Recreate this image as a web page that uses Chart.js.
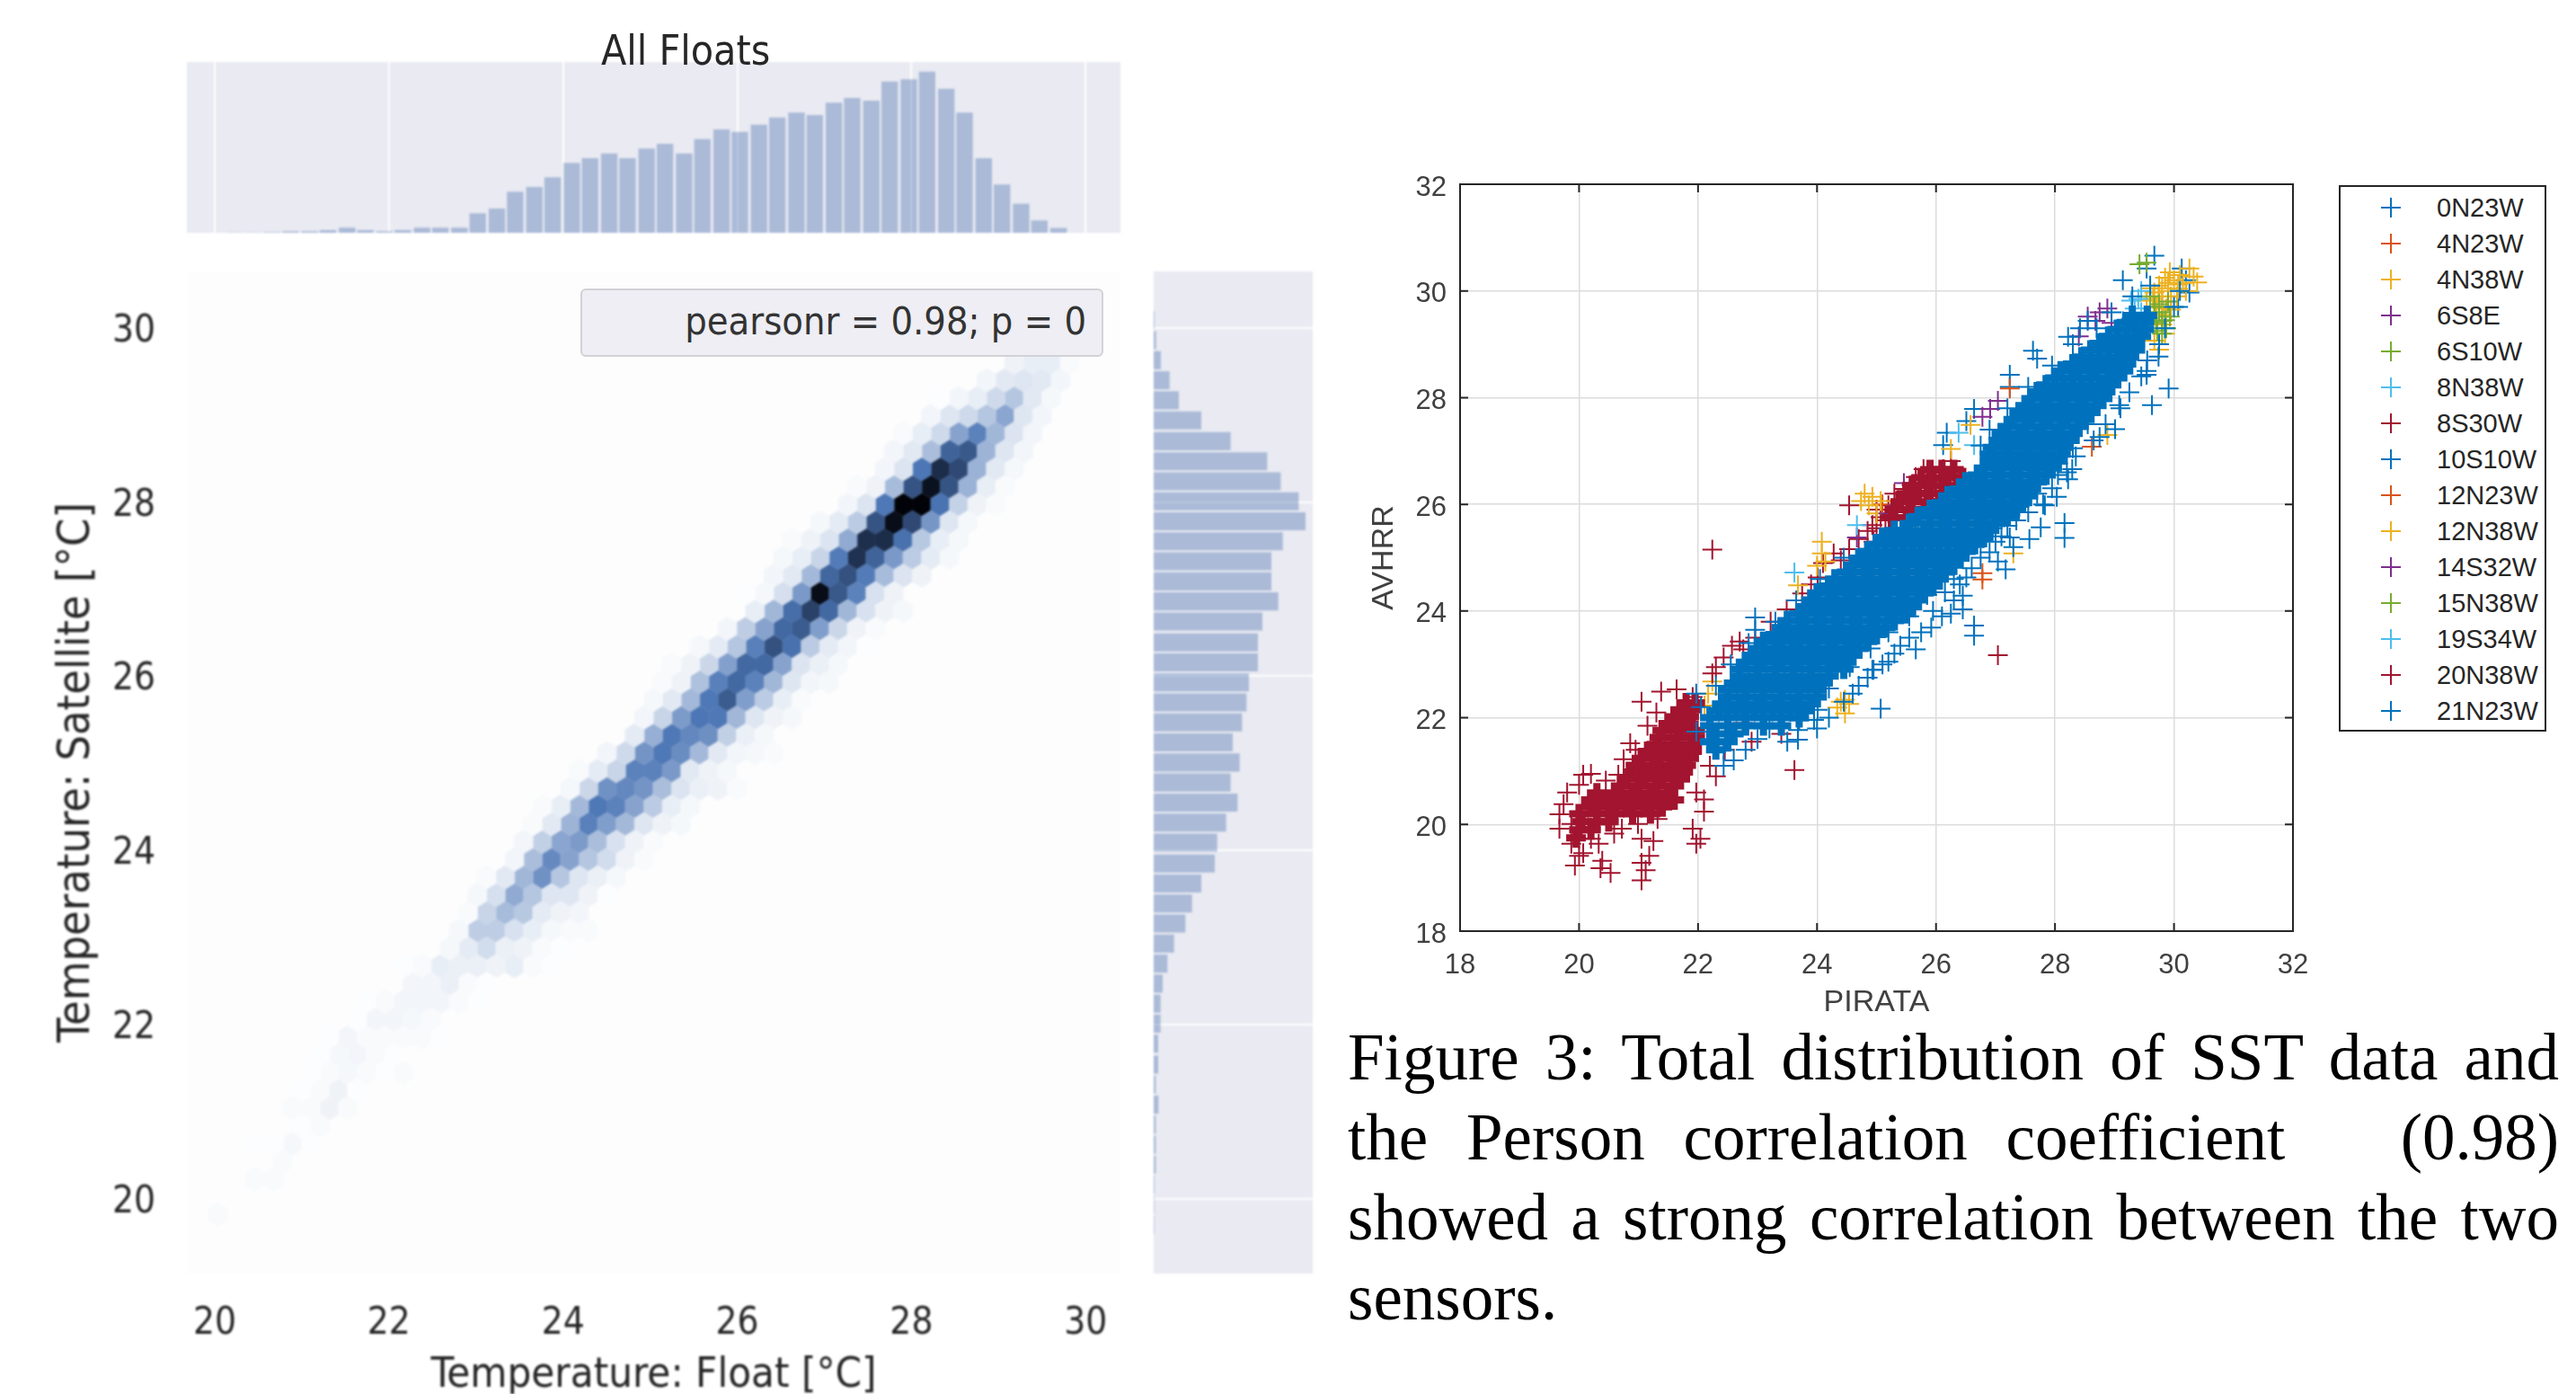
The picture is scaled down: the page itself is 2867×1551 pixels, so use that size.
<!DOCTYPE html>
<html>
<head>
<meta charset="utf-8">
<title>All Floats</title>
<script src="https://cdn.jsdelivr.net/npm/chart.js@4"></script>
<style>
    html, body { margin: 0; background: #fff; }
    body { position: relative; width: 2867px; height: 1551px; overflow: hidden; }
    canvas { position: absolute; }
    canvas.soft { filter: blur(0.8px); }
    .float-text { position: absolute; z-index: 2; color: #262626; font-family: "DejaVu Sans Condensed", "DejaVu Sans", sans-serif; white-space: nowrap; }
    #stats { left: 646px; top: 321px; width: 582px; height: 76px; box-sizing: border-box; padding-right: 17px; line-height: 68px; text-align: right;
             font-size: 43px; color: #333; background: #eeeef4; border: 2px solid #d2d2d6; border-radius: 6px; }
    #legend { position: absolute; left: 2603px; top: 206px; width: 231px; height: 608px; box-sizing: border-box; border: 2px solid #262626; background: #fff; }
    .legend-row { position: absolute; left: 107px; font: 29px/40px "Liberation Sans", sans-serif; color: #262626; }
    .legend-mark { position: absolute; width: 22px; height: 22px; left: 45px; }
    .legend-mark i { position: absolute; background: currentColor; }
    #caption { position: absolute; left: 1500px; top: 1132px; width: 1348px; font: 73px/89px "Liberation Serif", serif; color: #000; }
    #caption div { text-align: justify; text-align-last: justify; white-space: nowrap; }
    #caption div:last-child { text-align-last: left; }
</style>
</head>
<body>
<div class="float-text" style="left:669px;top:29px;font-size:46px;">All Floats</div>
<div id="legend"></div>
<div id="caption">
    <div>Figure 3: Total distribution of SST data and</div>
    <div style="white-space:normal">the Person correlation coefficient &nbsp; (0.98)</div>
    <div>showed a strong correlation between the two</div>
    <div>sensors.</div>
</div>

<script>
// Left panel: marginal histograms
const floatTicks = [20, 22, 24, 26, 28, 30];
const satelliteTicks = [20, 22, 24, 26, 28, 30];
const floatBinCenters = [20.23, 20.44, 20.66, 20.87, 21.09, 21.30, 21.52, 21.73, 21.95, 22.16, 22.38, 22.59, 22.81, 23.02, 23.24,
    23.45, 23.67, 23.88, 24.10, 24.31, 24.53, 24.74, 24.96, 25.17, 25.39, 25.60, 25.82, 26.03, 26.25, 26.46,
    26.68, 26.89, 27.11, 27.32, 27.54, 27.75, 27.97, 28.18, 28.40, 28.61, 28.83, 29.04, 29.26, 29.47, 29.69];
const floatBinCounts = [1, 1, 2, 5, 5, 9, 17, 9, 5, 9, 17, 17, 17, 65, 81,
    137, 153, 185, 233, 249, 265, 249, 281, 297, 265, 313, 345, 337, 361, 385,
    401, 393, 434, 450, 441, 505, 512, 538, 481, 401, 249, 161, 97, 41, 16];
const satelliteBinCenters = [30.09, 29.86, 29.63, 29.40, 29.17, 28.94, 28.70, 28.47, 28.24, 28.01, 27.78, 27.55, 27.32, 27.09, 26.86, 26.63,
    26.39, 26.16, 25.93, 25.70, 25.47, 25.24, 25.01, 24.78, 24.55, 24.32, 24.09, 23.85, 23.62, 23.39, 23.16,
    22.93, 22.70, 22.47, 22.24, 22.01, 21.78, 21.54, 21.31, 21.08, 20.85, 20.62, 20.39, 20.16, 19.93, 19.70];
const satelliteBinCounts = [3, 8, 24, 53, 84, 159, 257, 379, 424, 484, 507, 431, 393, 393, 416, 363,
    348, 348, 318, 310, 295, 264, 287, 257, 280, 242, 212, 204, 159, 128, 106,
    68, 46, 30, 23, 23, 15, 15, 7, 16, 7, 7, 7, 3, 2, 2];

// Hexbin grid
const hexOriginX = 26.948;
const hexOriginY = 26.953;
const hexStepX = 0.2126;
const hexStepY = 0.2039;
const hexRowIndex = [13, 12, 11, 10, 9, 8, 7, 6, 5, 4, 3, 2, 1, 0, -1, -2, -3, -4, -5, -6, -7, -8, -9, -10, -11, -12, -13, -14, -15, -16, -17, -18,
    -19, -20, -21, -22, -23, -24, -25, -26, -27, -28, -29, -30, -31, -32, -33, -35];
const hexFirstCol = [10, 9, 6, 6, 4, 4, 3, 2, 1, 0, -2, -2, -3, -4, -4, -5, -7, -8, -9, -9, -10, -10, -12, -13, -14, -15, -16, -16, -17, -18, -19, -19,
    -20, -20, -23, -22, -25, -25, -27, -27, -28, -28, -29, -28, -31, -29, -31, -33];
const hexCounts = [
    [5, 7, 7, 2],
    [4, 9, 10, 9, 4],
    [1, 4, 7, 15, 23, 9, 3],
    [4, 10, 15, 23, 36, 10, 4],
    [2, 7, 15, 37, 50, 29, 11, 4],
    [4, 9, 26, 62, 66, 30, 10, 4],
    [4, 11, 55, 83, 72, 31, 9, 3],
    [2, 5, 27, 68, 94, 68, 31, 7, 2],
    [4, 11, 54, 100, 100, 56, 18, 5, 2],
    [3, 8, 21, 68, 96, 72, 42, 10, 3],
    [2, 5, 11, 34, 82, 83, 57, 22, 7, 3],
    [3, 7, 17, 53, 81, 62, 41, 21, 8, 3],
    [4, 9, 28, 61, 69, 53, 27, 11, 5],
    [1, 3, 13, 41, 96, 66, 50, 12, 5],
    [7, 29, 58, 75, 60, 29, 12, 5, 3],
    [4, 20, 37, 60, 65, 39, 16, 5, 2],
    [3, 8, 23, 51, 69, 57, 21, 8, 4, 1],
    [2, 5, 16, 38, 60, 60, 37, 11, 6, 3],
    [2, 5, 25, 51, 60, 50, 29, 10, 4, 3],
    [3, 9, 28, 54, 65, 39, 21, 7, 2],
    [4, 17, 40, 55, 54, 29, 10, 5, 3],
    [8, 32, 54, 48, 45, 19, 6, 3],
    [4, 15, 43, 54, 46, 28, 9, 4, 3, 2],
    [2, 8, 17, 50, 50, 41, 9, 5, 3],
    [3, 16, 44, 48, 43, 26, 11, 6, 5, 2],
    [2, 7, 28, 54, 50, 37, 21, 7, 3],
    [2, 9, 30, 51, 39, 28, 10, 5, 3],
    [4, 19, 36, 40, 26, 12, 5, 2],
    [4, 26, 47, 37, 23, 14, 5, 2],
    [2, 9, 29, 44, 23, 10, 6, 3],
    [3, 13, 34, 23, 10, 10, 5, 1],
    [2, 17, 27, 22, 8, 5, 4],
    [3, 20, 20, 12, 7, 3, 2, 2],
    [3, 8, 14, 6, 5, 2, 1],
    [1, 2, 7, 6, 6, 5, 7, 2, 1],
    [4, 4, 6, 2, 1],
    [1, 2, 4, 4, 4, 2, 1],
    [1, 4, 4, 3, 2],
    [1, 4, 2, 2, 2, 2, 1],
    [1, 3, 4, 2, 1],
    [1, 2, 3, 2, 1, 2],
    [1, 2, 5, 1],
    [2, 2, 5, 2],
    [1, 2],
    [1, 1, 3, 1],
    [2],
    [2, 2],
    [2]
];

// Right panel: station series
const stationNames = ['0N23W', '4N23W', '4N38W', '6S8E', '6S10W', '8N38W', '8S30W', '10S10W', '12N23W', '12N38W', '14S32W', '15N38W', '19S34W', '20N38W', '21N23W'];
const stationColors = ['#0072BD', '#D95319', '#EDB120', '#7E2F8E', '#77AC30', '#4DBEEE', '#A2142F', '#0072BD', '#D95319', '#EDB120', '#7E2F8E', '#77AC30', '#4DBEEE', '#A2142F', '#0072BD'];
const pirataTicks = [18, 20, 22, 24, 26, 28, 30, 32];
const avhrrTicks = [18, 20, 22, 24, 26, 28, 30, 32];

const pts0N23W = [[29.67, 30.66], [29.54, 30.42], [30.13, 30.42], [30.2, 30.2], [30.26, 29.97], [29.14, 30.2], [29.8, 29.7], [30.07, 29.7], [29.28, 29.48]];
const pts4N23W = [[26.78, 24.71], [26.78, 24.59], [28.62, 27.08]];
const pts4N38W = [[29.8, 30.05], [30.07, 30.12], [30.39, 30.16], [30.2, 30.0], [29.93, 30.35], [30.26, 30.42], [29.54, 29.82], [29.74, 29.9], [29.87, 29.67],
    [29.8, 29.37], [29.67, 29.07], [30.07, 30.04], [29.67, 29.97], [29.6, 30.05], [30.33, 30.27], [29.9, 30.15], [29.95, 29.9], [29.7, 29.55], [29.85, 29.2], [29.75, 28.9],
    [29.7, 29.7], [29.8, 29.8], [29.9, 30.0], [30.0, 30.2], [30.1, 30.3], [29.75, 30.1], [30.05, 29.9], [29.85, 30.25], [29.8, 29.55], [29.95, 29.65], [30.15, 30.15], [29.65, 29.85]];
const pts6S8E = [[28.75, 29.6], [28.55, 29.52], [28.88, 29.67], [28.68, 29.44], [28.95, 29.4], [28.4, 29.15]];
const pts6S10W = [[29.55, 29.3], [29.67, 29.6], [29.8, 29.44], [29.87, 29.3], [29.67, 29.7], [29.93, 29.52], [29.54, 30.53], [29.42, 30.5], [29.72, 29.25], [29.7, 29.4], [29.8, 29.2], [29.6, 29.5], [29.75, 29.6], [29.85, 29.45]];
const pts8N38W = [[23.62, 24.72], [29.28, 29.82], [29.34, 29.67], [29.14, 29.44], [29.45, 29.6], [29.4, 29.85], [29.3, 29.55]];
const pts8S30W = [[25.59, 26.36], [25.86, 26.59], [26.12, 26.66], [26.38, 26.51], [26.51, 26.29], [26.12, 26.2], [25.33, 26.06], [25.07, 25.76], [24.93, 25.61],
    [25.98, 26.44], [25.79, 26.66], [25.66, 26.51], [26.25, 26.81], [25.46, 26.29], [25.2, 25.98], [25.0, 25.9], [24.54, 25.98], [25.75, 26.25], [26.0, 26.3], [25.5, 26.15], [26.3, 26.35], [25.3, 26.2],
    [24.54, 25.16], [24.28, 25.08], [24.01, 24.63], [23.75, 24.33], [23.49, 24.03], [23.22, 23.8], [22.96, 23.5], [22.76, 23.28], [24.7, 25.35], [24.4, 24.95], [24.1, 24.9], [23.9, 24.5],
    [24.85, 25.5], [25.0, 25.55], [25.15, 25.7], [24.95, 25.3]];
const pts10S10W = [[28.55, 29.44], [28.42, 29.3], [28.22, 29.14], [27.63, 28.88], [27.7, 28.73], [27.24, 28.43], [27.24, 28.2], [26.64, 27.79], [26.51, 27.56], [26.18, 27.34], [26.12, 27.11]];
const pts12N23W = [[27.24, 28.17], [25.92, 26.59], [25.1, 26.0]];
const pts12N38W = [[24.93, 26.14], [24.8, 26.2], [25.07, 26.06], [24.87, 25.98], [24.74, 26.06], [25.0, 25.83], [24.08, 25.3], [24.08, 25.08], [24.14, 24.93], [24.0, 24.85], [23.68, 24.48],
    [24.47, 22.34], [24.34, 22.19], [24.54, 22.26], [24.47, 22.08], [24.4, 22.3], [22.17, 22.45], [22.24, 22.68], [22.11, 22.23], [27.3, 25.08], [26.58, 27.49], [26.25, 27.04], [28.88, 27.3]];
const pts14S32W = [[26.91, 27.79], [26.78, 27.64], [27.04, 27.94], [25.2, 25.83], [25.46, 26.4], [24.67, 25.38]];
const pts15N38W = [[29.6, 29.9], [29.75, 29.75], [29.9, 29.8]];
const pts19S34W = [[26.64, 27.11], [26.38, 27.34], [24.67, 25.61], [29.45, 30.0]];
const pts20N38W = [[21.05, 18.95], [21.12, 19.14], [21.05, 19.28], [21.18, 19.41], [21.25, 19.69], [21.05, 19.73], [22.04, 19.73], [21.97, 19.64], [21.91, 19.92], [22.1, 20.24], [22.1, 20.47], [21.97, 20.6],
    [20.53, 19.09], [20.36, 19.18], [19.93, 19.23], [20, 19.41], [19.87, 19.64], [19.67, 19.92], [19.67, 20.19], [19.74, 20.38], [20, 20.74], [20.07, 20.93], [20.66, 20.93], [20.86, 21.52],
    [21.05, 22.3], [21.38, 22.49], [21.64, 22.53], [21.91, 22.39], [20.33, 19.64], [20.39, 19.32], [20.2, 19.73], [20, 19.73], [19.87, 20.01], [20.07, 19.46], [20.72, 19.92], [20.99, 20.01],
    [21.32, 20.1], [20.59, 19.83], [23.62, 21.02], [27.04, 23.17], [22.24, 25.15], [22.57, 23.35], [22.43, 23.13], [22.24, 22.83], [22.7, 23.43], [22.3, 22.95], [19.8, 20.6], [20.2, 20.95],
    [20.45, 20.82], [20.75, 21.22], [20.95, 21.4], [21.15, 21.85], [21.3, 22.1], [22.2, 21.1], [22.3, 20.9], [22.45, 21.4], [23.1, 22.0], [23.4, 21.7], [22.75, 21.9], [22.9, 21.55]];
const pts21N23W = [[29.91, 28.17], [29.63, 27.86], [29.54, 28.5], [29.74, 28.77], [29.54, 28.43], [29.08, 27.86], [29.01, 27.41], [28.75, 27.26], [28.29, 26.66], [28.22, 26.47], [28.03, 26.14],
    [27.83, 25.98], [28.16, 25.65], [28.16, 25.37], [27.76, 25.57], [27.57, 25.35], [27.24, 25.38], [27.3, 25.2], [27.04, 24.93], [27.17, 24.78], [26.51, 24.63], [26.45, 24.29], [26.45, 24.03],
    [26.25, 23.95], [26.64, 23.73], [26.64, 23.54], [25.92, 23.69], [25.66, 23.28], [25.2, 23.05], [24.93, 22.9], [25.07, 22.17], [23.95, 21.96], [23.68, 21.77], [23.68, 21.59], [24.01, 22.15],
    [22.96, 23.88], [22.96, 23.65], [21.97, 22.45], [21.97, 21.74], [22.43, 21.4], [22.43, 21.1], [22.3, 21.5], [23.0, 21.6], [23.2, 21.8], [23.5, 21.55], [22.8, 21.4], [22.6, 21.2], [23.7, 21.95], [24.0, 21.8],
    [24.2, 22.0], [24.45, 22.3], [24.7, 22.6], [24.95, 22.9], [25.3, 23.2], [25.55, 23.5], [26.1, 23.9], [26.3, 24.2], [26.4, 24.5], [26.6, 24.8], [26.9, 25.1], [27.1, 25.4], [27.35, 25.7], [27.8, 26.0],
    [27.95, 26.3], [28.2, 26.6], [28.35, 26.9], [28.65, 27.2], [28.85, 27.5], [29.1, 27.8], [29.25, 28.1], [29.45, 28.4], [29.55, 28.7], [29.75, 29.0], [29.85, 29.3], [30.0, 29.7], [30.1, 30.0],
    [22.05, 22.2], [22.3, 22.6], [22.55, 23.0], [22.85, 23.4], [23.3, 23.8], [23.65, 24.2], [24.05, 24.6], [24.45, 25.0], [26.75, 27.1],
    [26.9, 27.4], [27.2, 27.8], [27.55, 28.2], [27.95, 28.6], [28.3, 29.0], [28.7, 29.3], [28.95, 29.6], [29.3, 29.9], [29.6, 30.1],
    [24.6, 22.45], [24.85, 22.75], [25.1, 23.0], [25.4, 23.35], [25.75, 23.6], [25.95, 24.0], [26.15, 24.35], [26.3, 24.6], [26.75, 25.0], [27.0, 25.3], [27.2, 25.6], [27.55, 25.85], [27.7, 26.2],
    [27.4, 25.95], [26.95, 25.55], [26.55, 25.2], [26.2, 24.85], [25.85, 24.3], [25.55, 23.9], [25.2, 23.6], [24.9, 23.3], [24.55, 22.95], [24.2, 22.55], [28.05, 26.55], [28.3, 27.05], [28.55, 27.5]];

// Solid parts of the big clouds, one list of PIRATA values per AVHRR level
const redCoreY = [19.75, 19.9, 20.05, 20.2, 20.33, 20.46, 20.59, 20.72, 20.85, 20.98, 21.11, 21.24, 21.37, 21.5, 21.63, 21.76, 21.89, 22.02, 22.15, 22.28,
    25.75, 25.9, 26.05, 26.2, 26.35, 26.5, 26.65];
const redCoreX = [[19.95], [20.0, 20.2], [20.05, 20.3, 20.5], [20.0, 20.3, 20.6, 20.9, 21.2], [20.2, 20.5, 20.8, 21.1, 21.4], [20.2, 20.5, 20.8, 21.1, 21.4, 21.6], [20.3, 20.6, 20.9, 21.2, 21.5],
    [20.7, 21.0, 21.3, 21.6], [20.8, 21.1, 21.4, 21.7], [20.9, 21.2, 21.5, 21.75], [20.95, 21.25, 21.55, 21.8], [21.05, 21.35, 21.65, 21.85], [21.15, 21.45, 21.75, 21.9], [21.3, 21.6, 21.9],
    [21.35, 21.65, 21.95], [21.4, 21.7, 21.95], [21.5, 21.8], [21.6, 21.85], [21.7, 21.9], [21.8, 21.95],
    [25.25, 25.5], [25.3, 25.55, 25.8], [25.4, 25.6, 25.85, 26.05], [25.5, 25.7, 25.9, 26.15], [25.6, 25.85, 26.1, 26.35], [25.75, 25.95, 26.2, 26.45], [25.9, 26.1, 26.3]];
const blueCoreY = [21.4, 21.55, 21.7, 21.85, 22.0, 22.13, 22.26, 22.39, 22.52, 22.65, 22.78, 22.91, 23.04, 23.17, 23.3, 23.43, 23.56, 23.69, 23.82, 23.95, 24.08, 24.21, 24.34, 24.47, 24.6, 24.73, 24.86, 24.99,
    25.12, 25.25, 25.38, 25.51, 25.64, 25.77, 25.9, 26.03, 26.16, 26.29, 26.42, 26.55, 26.68, 26.81, 26.94, 27.07, 27.2, 27.33, 27.46, 27.59, 27.72, 27.85, 27.98, 28.11, 28.24, 28.37, 28.5, 28.63, 28.76, 28.89, 29.02, 29.15, 29.28, 29.41, 29.54];
const blueCoreX = [[22.3], [22.2, 22.5], [22.3, 22.6], [22.2, 22.5, 22.8, 23.1, 23.4], [22.2, 22.5, 22.8, 23.1, 23.4, 23.7], [22.35, 22.65, 22.95, 23.25, 23.55, 23.8], [22.4, 22.7, 23.0, 23.3, 23.6, 23.9],
    [22.5, 22.8, 23.1, 23.4, 23.7, 24.0], [22.5, 22.8, 23.1, 23.4, 23.7, 24.0], [22.6, 22.9, 23.2, 23.5, 23.8, 24.1], [22.7, 23.0, 23.3, 23.6, 23.9, 24.2], [22.7, 23.0, 23.3, 23.6, 23.9, 24.2, 24.45],
    [22.8, 23.1, 23.4, 23.7, 24.0, 24.3, 24.5], [22.9, 23.2, 23.5, 23.8, 24.1, 24.4, 24.6], [23.0, 23.3, 23.6, 23.9, 24.2, 24.5, 24.7], [23.1, 23.4, 23.7, 24.0, 24.3, 24.6, 24.85],
    [23.3, 23.6, 23.9, 24.2, 24.5, 24.8, 25.0], [23.4, 23.7, 24.0, 24.3, 24.6, 24.9, 25.15], [23.5, 23.8, 24.1, 24.4, 24.7, 25.0, 25.3], [23.7, 24.0, 24.3, 24.6, 24.9, 25.2, 25.5],
    [23.8, 24.1, 24.4, 24.7, 25.0, 25.3, 25.6], [23.9, 24.2, 24.5, 24.8, 25.1, 25.4, 25.7], [24.0, 24.3, 24.6, 24.9, 25.2, 25.5, 25.8], [24.2, 24.5, 24.8, 25.1, 25.4, 25.7, 25.95],
    [24.3, 24.6, 24.9, 25.2, 25.5, 25.8, 26.05], [24.5, 24.8, 25.1, 25.4, 25.7, 26.0, 26.15], [24.6, 24.9, 25.2, 25.5, 25.8, 26.1, 26.3], [24.7, 25.0, 25.3, 25.6, 25.9, 26.2, 26.4],
    [24.85, 25.15, 25.45, 25.75, 26.05, 26.35, 26.5], [25.0, 25.3, 25.6, 25.9, 26.2, 26.5, 26.65], [25.1, 25.4, 25.7, 26.0, 26.3, 26.6, 26.8], [25.3, 25.5, 25.8, 26.1, 26.4, 26.7, 26.9],
    [25.55, 25.9, 26.2, 26.5, 26.8, 27.0], [25.7, 26.1, 26.4, 26.7, 27.0, 27.2], [25.9, 26.2, 26.5, 26.8, 27.1, 27.35], [26.1, 26.4, 26.7, 27.0, 27.3, 27.45],
    [26.2, 26.5, 26.8, 27.1, 27.4, 27.55], [26.4, 26.7, 27.0, 27.3, 27.6], [26.5, 26.8, 27.1, 27.4, 27.7], [26.7, 27.0, 27.3, 27.6, 27.85], [26.8, 27.1, 27.4, 27.7, 27.95],
    [26.9, 27.2, 27.5, 27.8, 28.05], [26.9, 27.2, 27.5, 27.8, 28.1], [26.95, 27.25, 27.55, 27.85, 28.15], [27.05, 27.35, 27.65, 27.95, 28.25], [27.1, 27.4, 27.7, 28.0, 28.3],
    [27.2, 27.5, 27.8, 28.1, 28.4], [27.3, 27.6, 27.9, 28.2, 28.5], [27.4, 27.7, 28.0, 28.3, 28.6], [27.5, 27.8, 28.1, 28.4, 28.7], [27.6, 27.9, 28.2, 28.5, 28.8], [27.7, 28.0, 28.3, 28.6, 28.85],
    [27.85, 28.15, 28.45, 28.75, 28.95], [28.0, 28.3, 28.6, 28.9, 29.05], [28.1, 28.4, 28.7, 29.0, 29.15], [28.3, 28.6, 28.9, 29.2], [28.45, 28.75, 29.05, 29.25], [28.6, 28.9, 29.2, 29.35],
    [28.75, 29.05, 29.35], [28.9, 29.2, 29.45], [29.05, 29.35, 29.5], [29.2, 29.5], [29.3, 29.55]];

const stationPoints = [pts0N23W, pts4N23W, pts4N38W, pts6S8E, pts6S10W, pts8N38W, pts8S30W, pts10S10W, pts12N23W, pts12N38W, pts14S32W, pts15N38W, pts19S34W, pts20N38W, pts21N23W];

const tickFontLeft = '"DejaVu Sans Condensed", "DejaVu Sans", sans-serif';
const floatRange = { min: 19.68, max: 30.4 };
const satelliteRange = { min: 19.14, max: 30.65 };

const plotBackground = {
    id: 'plotBackground',
    beforeDraw(chart, args, opts) {
        const a = chart.chartArea;
        chart.ctx.save();
        chart.ctx.fillStyle = opts.color;
        chart.ctx.fillRect(a.left, a.top, a.width, a.height);
        chart.ctx.restore();
    }
};

// Matlab style frame: box on all sides with ticks pointing inward
const matlabFrame = {
    id: 'matlabFrame',
    afterDraw(chart) {
        const { ctx, chartArea: a, scales } = chart;
        ctx.save();
        ctx.strokeStyle = '#262626';
        ctx.lineWidth = 2;
        ctx.strokeRect(a.left, a.top, a.width, a.height);
        ctx.beginPath();
        pirataTicks.forEach((v) => {
            const x = scales.x.getPixelForValue(v);
            ctx.moveTo(x, a.bottom); ctx.lineTo(x, a.bottom - 9);
            ctx.moveTo(x, a.top); ctx.lineTo(x, a.top + 9);
        });
        avhrrTicks.forEach((v) => {
            const y = scales.y.getPixelForValue(v);
            ctx.moveTo(a.left, y); ctx.lineTo(a.left + 9, y);
            ctx.moveTo(a.right, y); ctx.lineTo(a.right - 9, y);
        });
        ctx.stroke();
        ctx.restore();
    }
};

const makeCanvas = (left, top, width, height, soft) => {
    const c = document.createElement('canvas');
    c.width = width;
    c.height = height;
    c.style.left = left + 'px';
    c.style.top = top + 'px';
    if (soft) c.className = 'soft';
    document.body.insertBefore(c, document.getElementById('legend'));
    return c;
};

const fixedTicks = (list) => (scale) => { scale.ticks = list.map((v) => ({ value: v })); };

// keep the plot area where it is, whatever the tick labels want
const fitAxis = (size) => (scale) => {
    if (scale.isHorizontal()) scale.height = size;
    else scale.width = size;
    scale.paddingLeft = 0;
    scale.paddingRight = 0;
    scale.paddingTop = 0;
    scale.paddingBottom = 0;
};

const baseOptions = {
    responsive: false,
    animation: false,
    events: [],
    plugins: { legend: { display: false }, tooltip: { enabled: false } }
};

const mixColor = (a, b, t) => a.map((v, i) => Math.round(v + (b[i] - v) * t));
const countColor = (n) => {
    let rgb;
    if (n <= 55) rgb = mixColor([255, 255, 255], [76, 118, 181], n / 55);
    else if (n <= 82) rgb = mixColor([76, 118, 181], [30, 47, 77], (n - 55) / 27);
    else rgb = mixColor([30, 47, 77], [2, 3, 8], (n - 82) / 18);
    return `rgb(${rgb.join(',')})`;
};

const hexSprites = {};
const hexSprite = (n) => {
    if (hexSprites[n]) return hexSprites[n];
    const c = document.createElement('canvas');
    c.width = 24;
    c.height = 30;
    const g = c.getContext('2d');
    const w = 10.8, h = 13.6;
    g.translate(12, 15);
    g.beginPath();
    g.moveTo(0, -h); g.lineTo(w, -h / 2); g.lineTo(w, h / 2); g.lineTo(0, h); g.lineTo(-w, h / 2); g.lineTo(-w, -h / 2);
    g.closePath();
    g.fillStyle = countColor(n);
    g.fill();
    hexSprites[n] = c;
    return c;
};

// Top marginal histogram
new Chart(makeCanvas(208, 69, 1039, 190, true), {
    type: 'bar',
    data: {
        datasets: [{
            data: floatBinCenters.map((x, i) => ({ x, y: floatBinCounts[i] })),
            backgroundColor: 'rgba(76,114,176,0.4)',
            barPercentage: 0.9,
            categoryPercentage: 1
        }]
    },
    options: {
        ...baseOptions,
        plugins: { ...baseOptions.plugins, plotBackground: { color: '#e9eaf2' } },
        scales: {
            x: {
                type: 'linear', ...floatRange, offset: false,
                afterBuildTicks: fixedTicks(floatTicks),
                afterFit: fitAxis(0),
                ticks: { display: false },
                border: { display: false },
                grid: { color: '#fff', lineWidth: 2, drawTicks: false, offset: false }
            },
            y: { display: false, min: 0, max: 570 }
        }
    },
    plugins: [plotBackground]
});

// Right marginal histogram
new Chart(makeCanvas(1284, 302, 177, 1115, true), {
    type: 'bar',
    data: {
        datasets: [{
            data: satelliteBinCenters.map((y, i) => ({ y, x: satelliteBinCounts[i] })),
            backgroundColor: 'rgba(76,114,176,0.4)',
            barPercentage: 0.9,
            categoryPercentage: 1
        }]
    },
    options: {
        ...baseOptions,
        indexAxis: 'y',
        plugins: { ...baseOptions.plugins, plotBackground: { color: '#e9eaf2' } },
        scales: {
            x: { display: false, type: 'linear', min: 0, max: 531 },
            y: {
                type: 'linear', ...satelliteRange, offset: false,
                afterBuildTicks: fixedTicks(satelliteTicks),
                afterFit: fitAxis(0),
                ticks: { display: false },
                border: { display: false },
                grid: { color: '#fff', lineWidth: 2, drawTicks: false, offset: false }
            }
        }
    },
    plugins: [plotBackground]
});

// Main hexbin panel
const hexPoints = [];
hexRowIndex.forEach((row, r) => {
    const shift = row % 2 !== 0 ? 0.5 : 0;
    hexCounts[r].forEach((count, i) => {
        hexPoints.push({
            x: hexOriginX + (hexFirstCol[r] + i + shift) * hexStepX,
            y: hexOriginY + row * hexStepY,
            count
        });
    });
});
// light cells first so the dark ones stay on top
hexPoints.sort((a, b) => b.count - a.count);

new Chart(makeCanvas(0, 300, 1247, 1251, true), {
    type: 'scatter',
    data: {
        datasets: [{
            data: hexPoints,
            pointStyle: (ctx) => hexSprite(ctx.raw ? ctx.raw.count : 1),
            pointRadius: 12
        }]
    },
    options: {
        ...baseOptions,
        layout: { autoPadding: false, padding: { top: 2 } },
        plugins: { ...baseOptions.plugins, plotBackground: { color: '#fdfdfd' } },
        scales: {
            x: {
                type: 'linear', ...floatRange,
                afterBuildTicks: fixedTicks(floatTicks),
                afterFit: fitAxis(134),
                grid: { display: false },
                border: { display: false },
                ticks: { color: '#262626', padding: 23, maxRotation: 0, font: { family: tickFontLeft, size: 42 } },
                title: { display: true, text: 'Temperature: Float [°C]', color: '#262626', padding: { top: 0, bottom: -8 }, font: { family: tickFontLeft, size: 47 } }
            },
            y: {
                type: 'linear', ...satelliteRange,
                afterBuildTicks: fixedTicks(satelliteTicks),
                afterFit: fitAxis(208),
                grid: { display: false },
                border: { display: false },
                ticks: { color: '#262626', padding: 27, labelOffset: 4, font: { family: tickFontLeft, size: 42 } },
                title: { display: true, text: 'Temperature: Satellite [°C]', color: '#262626', padding: { top: 56, bottom: 0 }, font: { family: tickFontLeft, size: 50 } }
            }
        }
    },
    plugins: [plotBackground]
});

const stats = document.createElement('div');
stats.id = 'stats';
stats.className = 'float-text';
stats.textContent = 'pearsonr = 0.98; p = 0';
document.body.appendChild(stats);

// PIRATA vs AVHRR scatter
const flattenRows = (ys, xs) => ys.flatMap((y, i) => xs[i].map((x) => ({ x, y })));
const stationDatasets = stationNames.map((name, i) => ({
    label: name,
    data: stationPoints[i].map(([x, y]) => ({ x, y })),
    pointStyle: 'cross',
    pointRadius: 11,
    pointBorderWidth: 2,
    pointBorderColor: stationColors[i],
    order: 20 - i
}));
const coreDataset = (label, ys, xs, color, order) => ({
    label,
    data: flattenRows(ys, xs),
    pointStyle: 'cross',
    pointRadius: 11,
    pointBorderWidth: 8,
    pointBorderColor: color,
    order
});

new Chart(makeCanvas(1500, 190, 1070, 950, false), {
    type: 'scatter',
    data: {
        datasets: [
            ...stationDatasets,
            coreDataset('20N38W core', redCoreY, redCoreX, '#A2142F', 6.5),
            coreDataset('21N23W core', blueCoreY, blueCoreX, '#0072BD', 1)
        ]
    },
    options: {
        ...baseOptions,
        layout: { autoPadding: false, padding: { top: 15, right: 18 } },
        scales: {
            x: {
                type: 'linear', min: 18, max: 32,
                afterBuildTicks: fixedTicks(pirataTicks),
                afterFit: fitAxis(104),
                grid: { color: '#dcdcdc', lineWidth: 1.5, drawTicks: false },
                border: { display: false },
                ticks: { color: '#404040', padding: 20, maxRotation: 0, font: { family: '"Liberation Sans"', size: 31 } },
                title: { display: true, text: 'PIRATA', color: '#404040', padding: { top: 0, bottom: 4 }, font: { family: '"Liberation Sans"', size: 34 } }
            },
            y: {
                type: 'linear', min: 18, max: 32,
                afterBuildTicks: fixedTicks(avhrrTicks),
                afterFit: fitAxis(125),
                grid: { color: '#dcdcdc', lineWidth: 1.5, drawTicks: false },
                border: { display: false },
                ticks: { color: '#404040', padding: 15, labelOffset: 4, font: { family: '"Liberation Sans"', size: 31 } },
                title: { display: true, text: 'AVHRR', color: '#404040', padding: { top: 20, bottom: 0 }, font: { family: '"Liberation Sans"', size: 34 } }
            }
        }
    },
    plugins: [matlabFrame]
});

// Legend box, built from the station lists
const legendBox = document.getElementById('legend');
stationNames.forEach((name, i) => {
    const rowTop = 3 + i * 40;
    const mark = document.createElement('div');
    mark.className = 'legend-mark';
    mark.style.top = (rowTop + 9) + 'px';
    mark.style.color = stationColors[i];
    mark.innerHTML = '<i style="left:10px;top:0;width:2px;height:22px"></i><i style="left:0;top:10px;width:22px;height:2px"></i>';
    legendBox.appendChild(mark);
    const row = document.createElement('div');
    row.className = 'legend-row';
    row.style.top = rowTop + 'px';
    row.textContent = name;
    legendBox.appendChild(row);
});
</script>
</body>
</html>
